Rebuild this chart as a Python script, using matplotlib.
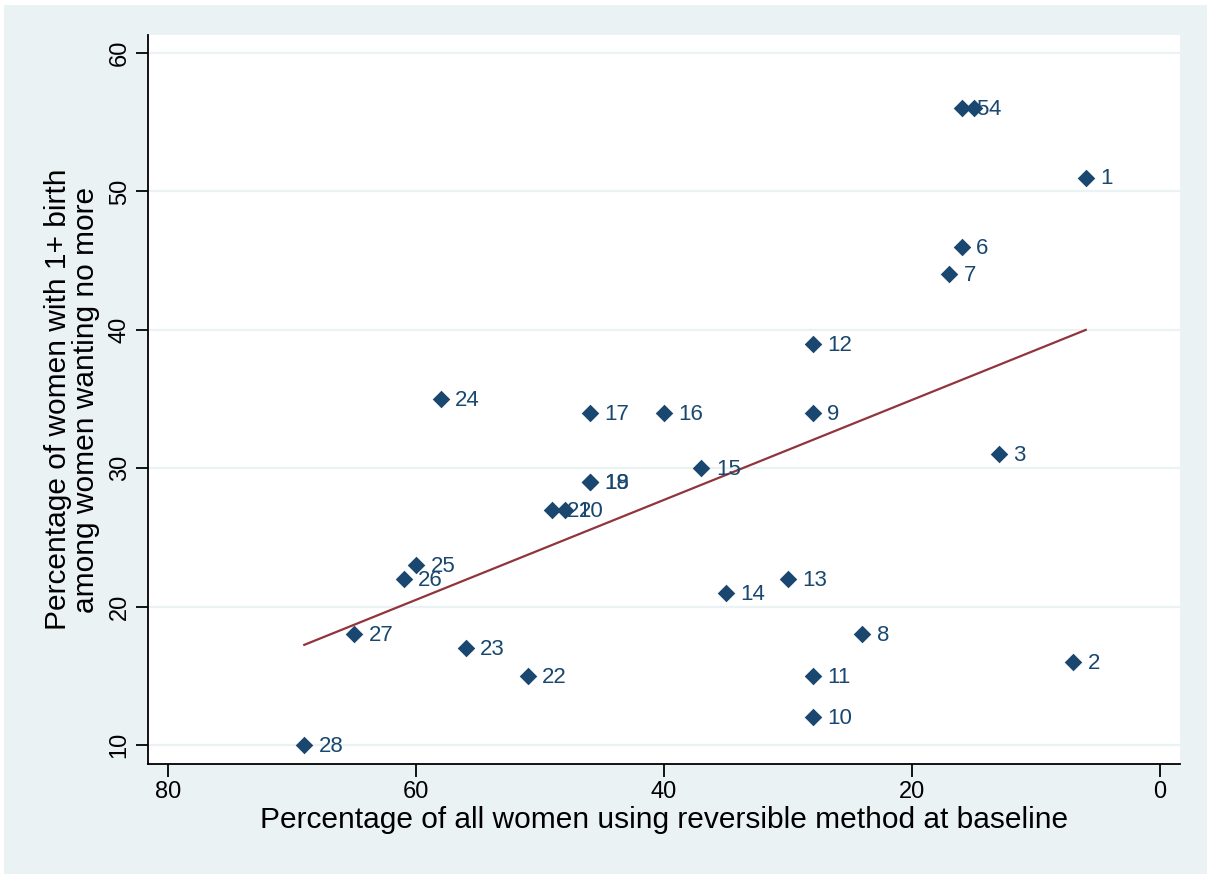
import numpy as np
import matplotlib
matplotlib.use("Agg")
import matplotlib.pyplot as plt
from matplotlib.patches import Rectangle

# Data: percentage using reversible method (x) vs percentage with 1+ birth wanting no more (y)
ids = [1, 2, 3, 4, 5, 6, 7, 8, 9, 10, 11, 12, 13, 14, 15, 16, 17, 18, 19, 20,
       21, 22, 23, 24, 25, 26, 27, 28]
x_reversible = [6, 7, 13, 15, 16, 16, 17, 24, 28, 28, 28, 28, 30, 35, 37, 40, 46, 46, 46, 48,
                49, 51, 56, 58, 60, 61, 65, 69]
y_nomore = [51, 16, 31, 56, 56, 46, 44, 18, 34, 12, 15, 39, 22, 21, 30, 34, 34, 29, 29, 27,
            27, 15, 17, 35, 23, 22, 18, 10]
x_ticks = [80, 60, 40, 20, 0]
y_ticks = [10, 20, 30, 40, 50, 60]

navy = "#1a476f"
maroon = "#90353b"
bg = "#eaf2f3"

plt.rcParams['font.family'] = ['Liberation Sans', 'DejaVu Sans']

fig = plt.figure(figsize=(12.07, 8.74), dpi=100)
fig.patch.set_facecolor("white")
fig.patches.append(Rectangle((4/1207, 0), 1 - 4/1207, 1 - 5/874,
                             transform=fig.transFigure, facecolor=bg,
                             edgecolor="none", zorder=-10))

ax = fig.add_axes([148/1207, 1 - 764/874, (1180-148)/1207, (764-35)/874])
ax.set_facecolor("white")

for yt in y_ticks:
    ax.axhline(yt, color=bg, lw=1.6, zorder=0)

ax.scatter(x_reversible, y_nomore, marker="D", s=80, color=navy, zorder=3,
           linewidths=0)
for i, xv, yv in zip(ids, x_reversible, y_nomore):
    ax.annotate(str(i), (xv, yv), xytext=(10.5, -1), textcoords="offset points",
                va="center", ha="left", color=navy, fontsize=16, zorder=4)

# linear fit
xa = np.array(x_reversible, float)
ya = np.array(y_nomore, float)
b, a = np.polyfit(xa, ya, 1)
xl = np.array([xa.min(), xa.max()])
ax.plot(xl, a + b * xl, color=maroon, lw=1.6, zorder=2)

ax.set_xlim(81.6, -1.6)
ax.set_ylim(8.63, 61.3)
ax.set_xticks(x_ticks)
ax.set_yticks(y_ticks)
ax.tick_params(axis="both", direction="out", length=9, width=1.3,
               labelsize=17, color="black")
for lbl in ax.get_yticklabels():
    lbl.set_rotation(90)
    lbl.set_va("center")

for s in ["top", "right"]:
    ax.spines[s].set_visible(False)
for s in ["left", "bottom"]:
    ax.spines[s].set_linewidth(1.3)

ax.set_xlabel("Percentage of all women using reversible method at baseline",
              fontsize=21.5, labelpad=2)
ax.set_ylabel("Percentage of women with 1+ birth\namong women wanting no more",
              fontsize=21.5, labelpad=6, linespacing=1.0)

fig.savefig("out.png", dpi=100, facecolor=fig.get_facecolor())
